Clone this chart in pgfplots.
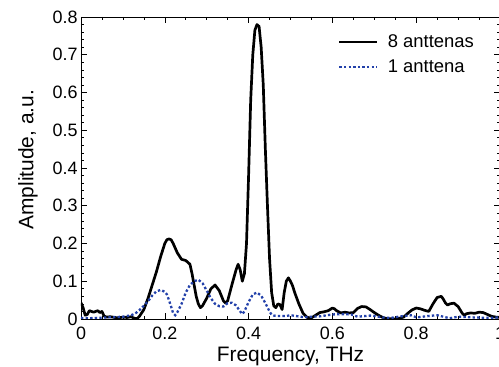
\documentclass[border=0pt]{standalone}
\usepackage{pgfplots}
\pgfplotsset{compat=1.18}
\usepackage{fontspec}
\setmainfont{Liberation Sans}
\definecolor{myblue}{RGB}{35,65,170}
\begin{document}
\begin{tikzpicture}
\begin{axis}[
  name=ax,
  scale only axis,
  width=419bp, height=302bp,
  xmin=0, xmax=1, ymin=0, ymax=0.8,
  xtick={0,0.2,0.4,0.6,0.8,1},
  xticklabels={0,0.2,0.4,0.6,0.8,1},
  ytick={0,0.1,0.2,0.3,0.4,0.5,0.6,0.7,0.8},
  yticklabels={0,0.1,0.2,0.3,0.4,0.5,0.6,0.7,0.8},
  minor x tick num=3,
  minor y tick num=4,
  tick align=inside,
  major tick length=6bp,
  minor tick length=3bp,
  xtick pos=both, ytick pos=both,
  axis line style={line width=0.8pt},
  every tick/.style={line width=0.6pt, black},
  tick label style={font=\fontsize{18}{20}\selectfont},
  /pgf/number format/assume math mode=true,
  xticklabel style={anchor=base, yshift=-20.5bp},
  xlabel={Frequency, THz},
  ylabel={Amplitude, a.u.},
  label style={font=\fontsize{21}{24}\selectfont},
  xlabel style={at={(axis description cs:0.5,0)}, anchor=base, yshift=-42.5bp},
  ylabel style={at={(axis description cs:-0.1134,0.527)}, anchor=base},
  legend style={draw=none, fill=none, at={(0.95,0.955)}, anchor=north east,
    font=\fontsize{18.5}{20}\selectfont, row sep=7bp},
  legend cell align=left,
  legend image code/.code={\draw[#1] (0bp,0bp) -- (38bp,0bp); \path (45bp,0bp);},
  clip=true,
]
\addplot[black, line width=2.7pt, line join=round] coordinates {
(0,0.043) (0.005,0.03) (0.01,0.01) (0.015,0.012) (0.02,0.022) (0.025,0.02) (0.03,0.018) (0.035,0.02) (0.04,0.022) (0.045,0.017) (0.05,0.02) (0.055,0.008) (0.06,0.005) (0.07,0.006) (0.08,0.004) (0.09,0.003) (0.1,0.005) (0.11,0.004) (0.12,0.006) (0.125,0.003) (0.13,0.001) (0.135,0.002) (0.14,0.008) (0.15,0.025) (0.16,0.055) (0.17,0.09) (0.18,0.125) (0.19,0.165) (0.2,0.2) (0.205,0.21) (0.21,0.212) (0.215,0.21) (0.22,0.2) (0.23,0.175) (0.24,0.158) (0.25,0.155) (0.26,0.145) (0.265,0.12) (0.27,0.09) (0.275,0.06) (0.28,0.04) (0.285,0.03) (0.29,0.035) (0.3,0.055) (0.31,0.08) (0.32,0.09) (0.33,0.075) (0.34,0.048) (0.345,0.042) (0.35,0.048) (0.36,0.09) (0.37,0.13) (0.375,0.145) (0.38,0.13) (0.385,0.1) (0.39,0.12) (0.395,0.2) (0.4,0.38) (0.405,0.58) (0.41,0.7) (0.415,0.765) (0.42,0.78) (0.425,0.775) (0.43,0.72) (0.435,0.62) (0.44,0.45) (0.445,0.3) (0.45,0.16) (0.455,0.07) (0.46,0.035) (0.465,0.03) (0.47,0.04) (0.475,0.038) (0.48,0.025) (0.485,0.07) (0.49,0.1) (0.495,0.109) (0.5,0.1) (0.505,0.088) (0.51,0.07) (0.52,0.04) (0.53,0.015) (0.54,0.004) (0.55,0.003) (0.56,0.01) (0.57,0.017) (0.58,0.019) (0.59,0.022) (0.6,0.029) (0.605,0.027) (0.61,0.022) (0.62,0.016) (0.63,0.018) (0.64,0.016) (0.65,0.017) (0.66,0.028) (0.67,0.033) (0.68,0.032) (0.69,0.025) (0.7,0.017) (0.71,0.01) (0.72,0.004) (0.73,0.001) (0.75,0.0) (0.76,0.002) (0.77,0.005) (0.78,0.015) (0.79,0.024) (0.8,0.029) (0.81,0.027) (0.82,0.023) (0.83,0.02) (0.84,0.04) (0.85,0.057) (0.86,0.06) (0.865,0.052) (0.87,0.042) (0.875,0.037) (0.88,0.04) (0.89,0.042) (0.9,0.033) (0.91,0.015) (0.915,0.01) (0.92,0.014) (0.93,0.016) (0.94,0.015) (0.95,0.018) (0.96,0.017) (0.97,0.012) (0.98,0.007) (0.99,0.005) (1.0,0.004)
};
\addlegendentry{8 anttenas}
\addplot[myblue, line width=2.3pt, dash pattern=on 2.4pt off 2.2pt] coordinates {
(0,0.003) (0.02,0.002) (0.04,0.003) (0.06,0.004) (0.08,0.005) (0.1,0.006) (0.11,0.008) (0.12,0.01) (0.13,0.015) (0.14,0.024) (0.15,0.035) (0.16,0.047) (0.17,0.062) (0.18,0.073) (0.19,0.077) (0.2,0.072) (0.205,0.065) (0.21,0.05) (0.215,0.033) (0.22,0.015) (0.225,0.01) (0.23,0.018) (0.24,0.04) (0.25,0.07) (0.26,0.09) (0.27,0.1) (0.28,0.104) (0.29,0.095) (0.3,0.075) (0.31,0.055) (0.32,0.04) (0.33,0.034) (0.34,0.033) (0.35,0.042) (0.36,0.043) (0.37,0.036) (0.38,0.02) (0.385,0.013) (0.39,0.02) (0.4,0.045) (0.41,0.065) (0.42,0.07) (0.43,0.062) (0.44,0.042) (0.45,0.02) (0.455,0.011) (0.46,0.009) (0.47,0.008) (0.49,0.008) (0.5,0.01) (0.53,0.005) (0.57,0.007) (0.6,0.012) (0.62,0.013) (0.645,0.012) (0.66,0.006) (0.69,0.009) (0.7,0.008) (0.72,0.004) (0.74,0.003) (0.77,0.008) (0.79,0.01) (0.8,0.004) (0.83,0.008) (0.85,0.01) (0.88,0.002) (0.9,0.006) (0.94,0.004) (0.97,0.003) (1.0,0.004)
};
\addlegendentry{1 anttena}
\end{axis}
\pgfresetboundingbox
\path ([xshift=-81bp,yshift=-48bp]ax.south west) rectangle ([xshift=-1bp,yshift=17bp]ax.north east);
\end{tikzpicture}
\end{document}
